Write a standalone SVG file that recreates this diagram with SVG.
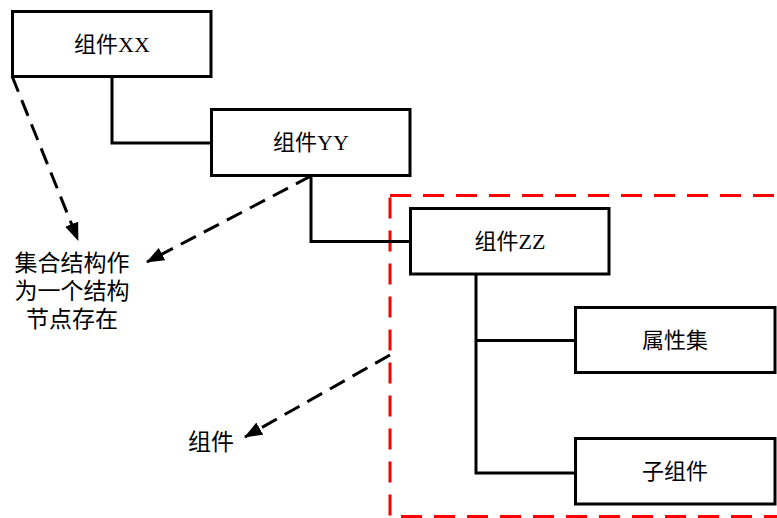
<svg xmlns="http://www.w3.org/2000/svg" width="777" height="518" viewBox="0 0 777 518">
<defs>
<style>
.box{fill:#fff;stroke:#000;stroke-width:3}
.t{font-family:"Liberation Serif","Noto Sans CJK SC",serif;font-size:22px;fill:#000;text-anchor:middle;dominant-baseline:central}
.lb{font-size:23px}
.ln{fill:none;stroke:#000;stroke-width:3}
.dash{fill:none;stroke:#000;stroke-width:3;stroke-dasharray:17 9}
.red{fill:none;stroke:#f00;stroke-width:3;stroke-dasharray:21 12}
</style>
<marker id="ah" markerWidth="18" markerHeight="14" refX="17" refY="7" orient="auto" markerUnits="userSpaceOnUse">
<path d="M0,0 L18,7 L0,14 Z" fill="#000"/>
</marker>
</defs>
<rect class="red" x="390" y="195.5" width="400" height="321"/>
<g id="connectors">
<path class="ln" d="M112,76 V143 H211"/>
<path class="ln" d="M311,176 V241.5 H410"/>
<path class="ln" d="M476,274 V473 H575 M476,340.5 H575"/>
<path class="dash" d="M12,76 L78,240" marker-end="url(#ah)"/>
<path class="dash" d="M311,176 L147,262" marker-end="url(#ah)"/>
<path class="dash" d="M390,355 L245,437" marker-end="url(#ah)"/>
</g>
<g id="nodeXX"><rect class="box" x="12.5" y="11.5" width="198.5" height="65"/><text class="t" x="112" y="44">组件XX</text></g>
<g id="nodeYY"><rect class="box" x="211.5" y="109.5" width="198.5" height="66"/><text class="t" x="311" y="142">组件YY</text></g>
<g id="nodeZZ"><rect class="box" x="410.5" y="208.5" width="198.5" height="65.5"/><text class="t" x="510" y="241">组件ZZ</text></g>
<g id="nodeAttr"><rect class="box" x="575.5" y="307.5" width="199.5" height="65"/><text class="t" x="675" y="340">属性集</text></g>
<g id="nodeChild"><rect class="box" x="575.5" y="438.5" width="199.5" height="65.5"/><text class="t" x="675" y="471">子组件</text></g>
<g id="label1">
<text class="t lb" x="72" y="263">集合结构作</text>
<text class="t lb" x="72" y="291">为一个结构</text>
<text class="t lb" x="72" y="319">节点存在</text>
</g>
<g id="label2"><text class="t lb" x="211" y="442">组件</text></g>
</svg>
